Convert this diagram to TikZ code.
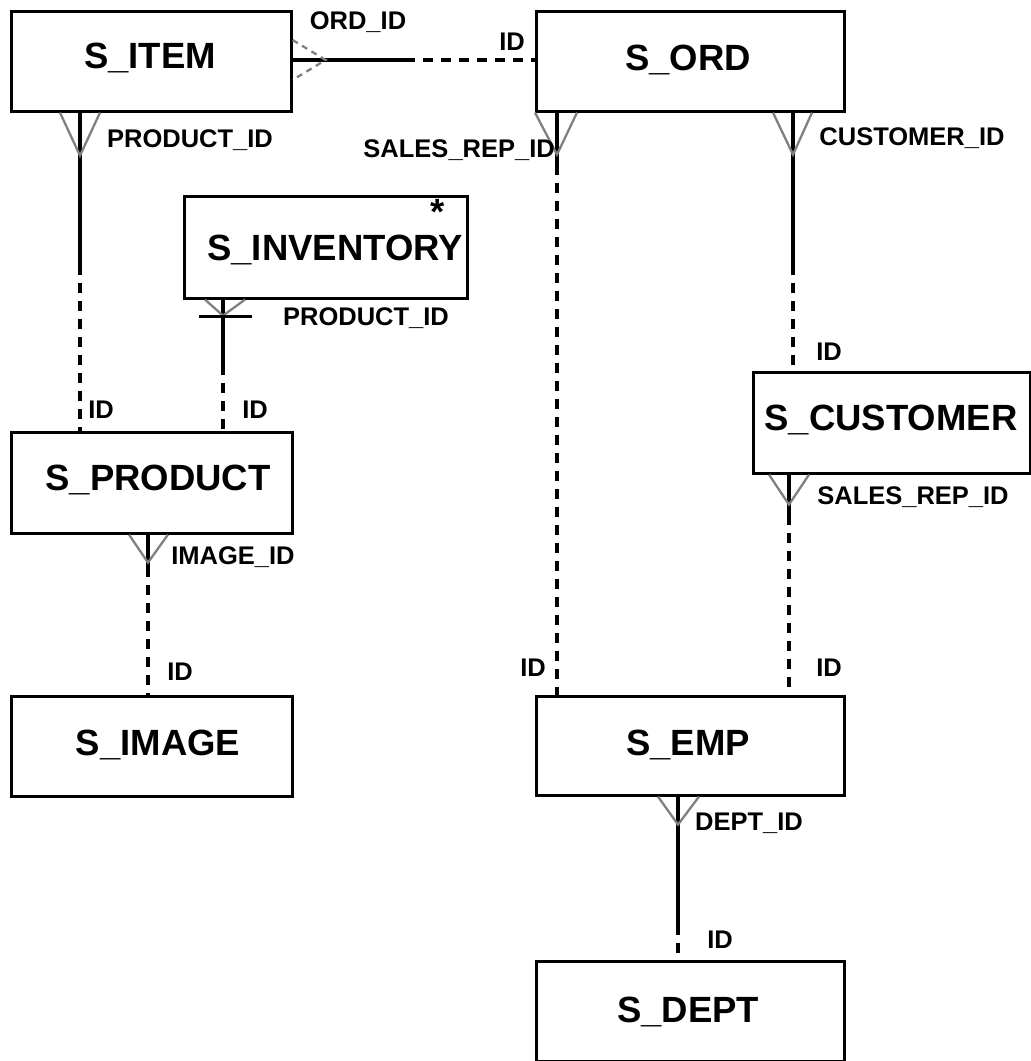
\documentclass[tikz,border=0pt]{standalone}
\usepackage{fontspec}
\setmainfont{Liberation Sans}
\usetikzlibrary{calc}
\begin{document}
\begin{tikzpicture}[x=1pt,y=-1pt,
  entity/.style={draw=black,line width=2.6pt,rectangle,inner sep=0pt,anchor=north west},
  title/.style={font=\fontsize{36.5}{40}\selectfont\bfseries,inner sep=0pt},
  attr/.style={font=\fontsize{25.5}{30}\selectfont\bfseries,inner sep=0pt},
  rel/.style={draw=black,line width=3.4pt},
  reldash/.style={draw=black,line width=3.4pt,dash pattern=on 10pt off 8pt},
  crow/.style={draw=gray,line width=2.3pt},
  crowdash/.style={draw=gray,line width=2.3pt,dash pattern=on 6pt off 5pt}]
\useasboundingbox (0,0) rectangle (1031,1061);
\fill[white] (0,0) rectangle (1031,1061);

% entities
\node[entity,minimum width=280pt,minimum height=100pt] (item) at (10,10) {};
\node[entity,minimum width=308pt,minimum height=100pt] (ord) at (535,10) {};
\node[entity,minimum width=283pt,minimum height=102pt] (inv) at (183,195) {};
\node[entity,minimum width=281pt,minimum height=101pt] (prod) at (10,431) {};
\node[entity,minimum width=277pt,minimum height=101pt] (cust) at (752,371) {};
\node[entity,minimum width=281pt,minimum height=100pt] (img) at (10,695) {};
\node[entity,minimum width=308pt,minimum height=99pt] (emp) at (535,695) {};
\node[entity,minimum width=308pt,minimum height=100pt] (dept) at (535,960) {};

\node[title] (item-t) at (150,58) {S\_ITEM};
\node[title] (ord-t) at (688,60) {S\_ORD};
\node[title] (inv-t) at (335,250) {S\_INVENTORY};
\node[title,text height=27pt,text depth=-15pt] (inv-star) at (438,211) {*};
\node[title] (prod-t) at (158,480) {S\_PRODUCT};
\node[title] (cust-t) at (891,420) {S\_CUSTOMER};
\node[title] (img-t) at (158,745) {S\_IMAGE};
\node[title] (emp-t) at (688,745) {S\_EMP};
\node[title] (dept-t) at (688,1012) {S\_DEPT};

% break points between solid and dashed halves
\coordinate (b1) at (405,60);
\coordinate (b2) at (80,265);
\coordinate (b3) at (223,365);
\coordinate (b4) at (557,165);
\coordinate (b5) at (793,265);
\coordinate (b6) at (789,515);
\coordinate (b7) at (148,567);
\coordinate (b8) at (678,925);

% S_ITEM -- S_ORD
\draw[rel] (item.east |- b1) -- (b1);
\draw[reldash] (b1) -- (ord.west |- b1);
\draw[crowdash] ($(item.east |- b1)+(0,-20)$) -- ($(item.east |- b1)+(33,0)$) -- ($(item.east |- b1)+(0,20)$);
\node[attr] (l1a) at (358,22) {ORD\_ID};
\node[attr] (l1b) at (512,42) {ID};

% S_ITEM -- S_PRODUCT
\draw[rel] (item.south -| b2) -- (b2);
\draw[reldash] (b2) -- (prod.north -| b2);
\draw[crow] ($(item.south -| b2)+(-20,0)$) -- ($(item.south -| b2)+(0,43)$) -- ($(item.south -| b2)+(20,0)$);
\node[attr] (l2a) at (190,140) {PRODUCT\_ID};
\node[attr] (l2b) at (101,410) {ID};

% S_INVENTORY -- S_PRODUCT
\draw[rel] (inv.south -| b3) -- (b3);
\draw[reldash] (b3) -- (prod.north -| b3);
\draw[crow] ($(inv.south -| b3)+(-18,0)$) -- ($(inv.south -| b3)+(0,16)$) -- ($(inv.south -| b3)+(22,0)$);
\draw[draw=black,line width=2.4pt] ($(inv.south -| b3)+(-24,17)$) -- ($(inv.south -| b3)+(29,17)$);
\node[attr] (l3a) at (366,318) {PRODUCT\_ID};
\node[attr] (l3b) at (255,410) {ID};

% S_ORD -- S_EMP
\draw[rel] (ord.south -| b4) -- (b4);
\draw[reldash] (b4) -- (emp.north -| b4);
\draw[crow] ($(ord.south -| b4)+(-22,0)$) -- ($(ord.south -| b4)+(0,42)$) -- ($(ord.south -| b4)+(20,0)$);
\node[attr,anchor=east] (l4a) at (555,150) {SALES\_REP\_ID};
\node[attr] (l4b) at (533,668) {ID};

% S_ORD -- S_CUSTOMER
\draw[rel] (ord.south -| b5) -- (b5);
\draw[reldash] (b5) -- (cust.north -| b5);
\draw[crow] ($(ord.south -| b5)+(-20,0)$) -- ($(ord.south -| b5)+(0,42)$) -- ($(ord.south -| b5)+(19,0)$);
\node[attr] (l5a) at (912,138) {CUSTOMER\_ID};
\node[attr] (l5b) at (829,352) {ID};

% S_CUSTOMER -- S_EMP
\draw[rel] (cust.south -| b6) -- (b6);
\draw[reldash] (b6) -- (emp.north -| b6);
\draw[crow] ($(cust.south -| b6)+(-20,0)$) -- ($(cust.south -| b6)+(0,30)$) -- ($(cust.south -| b6)+(20,0)$);
\node[attr] (l6a) at (913,497) {SALES\_REP\_ID};
\node[attr] (l6b) at (829,668) {ID};

% S_PRODUCT -- S_IMAGE
\draw[rel] (prod.south -| b7) -- (b7);
\draw[reldash] (b7) -- (img.north -| b7);
\draw[crow] ($(prod.south -| b7)+(-19,0)$) -- ($(prod.south -| b7)+(0,28)$) -- ($(prod.south -| b7)+(20,0)$);
\node[attr] (l7a) at (233,557) {IMAGE\_ID};
\node[attr] (l7b) at (180,672) {ID};

% S_EMP -- S_DEPT
\draw[rel] (emp.south -| b8) -- (b8);
\draw[reldash] (b8) -- (dept.north -| b8);
\draw[crow] ($(emp.south -| b8)+(-20,0)$) -- ($(emp.south -| b8)+(0,28)$) -- ($(emp.south -| b8)+(21,0)$);
\node[attr] (l8a) at (749,823) {DEPT\_ID};
\node[attr] (l8b) at (720,940) {ID};
\end{tikzpicture}
\end{document}
